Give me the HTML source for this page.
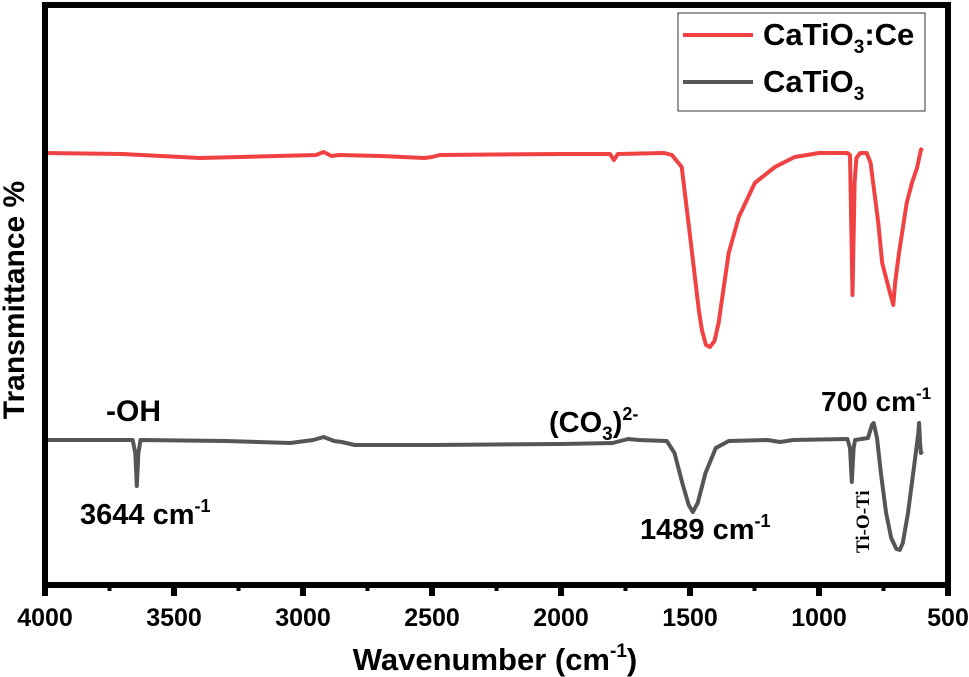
<!DOCTYPE html>
<html><head><meta charset="utf-8"><style>
body{margin:0;background:#fff}
svg{display:block;font-family:"Liberation Sans",Arial,sans-serif;font-weight:bold}
</style></head><body>
<svg id="chart" width="969" height="677" viewBox="0 0 969 677">
<g id="plot"></g>
<g id="axes"></g>
<text x="495" y="670" font-size="31" text-anchor="middle">Wavenumber (cm<tspan font-size="19" dy="-13">-1</tspan><tspan dy="13">)</tspan></text>
<text transform="translate(24,300) rotate(-90)" font-size="30" text-anchor="middle">Transmittance %</text>
<g>
<rect x="678" y="13" width="247" height="98" fill="#fff" stroke="#333" stroke-width="1"/>
<line x1="683" y1="35" x2="753" y2="35" stroke="#f04242" stroke-width="4"/>
<text x="763" y="45" font-size="31">CaTiO<tspan font-size="19" dy="8">3</tspan><tspan dy="-8">:Ce</tspan></text>
<line x1="683" y1="82" x2="753" y2="82" stroke="#555" stroke-width="4"/>
<text x="763" y="92" font-size="31">CaTiO<tspan font-size="19" dy="8">3</tspan></text>
</g>
<text x="106" y="421" font-size="30">-OH</text>
<text x="80" y="524" font-size="29">3644 cm<tspan font-size="18" dy="-12">-1</tspan></text>
<text x="549" y="432" font-size="29">(CO<tspan font-size="19" dy="8">3</tspan><tspan dy="-8">)</tspan><tspan font-size="18" dy="-12">2-</tspan></text>
<text x="640" y="539" font-size="29">1489 cm<tspan font-size="18" dy="-12">-1</tspan></text>
<text x="821" y="411" font-size="28">700 cm<tspan font-size="17" dy="-12">-1</tspan></text>
<text transform="translate(869,553) rotate(-90)" font-family="'Liberation Serif',serif" font-size="19">Ti-O-Ti</text>
</svg>
<script>
const ceWave=[4000,3700,3400,3100,2950,2920,2890,2860,2700,2530,2500,2470,2000,1810,1795,1780,1600,1570,1532,1501,1466,1454,1438,1423,1405,1389,1350,1311,1249,1171,1094,1000,890,880,870,862,855,840,815,800,770,755,735,725,712,705,690,660,640,620,605,600];
const ceTrans=[450,449,445,447,448,451,447,448,447,445,446,448,449,449,443,449,450,448,436,370,293,273,258,256,262,280,350,386,420,436,446,450,450,448,308,420,445,450,450,440,380,340,320,310,298,320,350,400,420,435,453,455];
const tiWave=[4000,3800,3660,3650,3644,3638,3630,3300,3050,2960,2920,2880,2850,2800,2500,2000,1800,1740,1700,1590,1560,1530,1505,1489,1470,1440,1400,1350,1200,1150,1100,890,880,873,866,860,810,795,788,775,760,740,720,700,687,675,655,630,615,612,608,605,600];
const tiTrans=[163,163,163,150,117,150,163,162,160,163,166,162,161,158,158,159,160,164,163,162,150,120,98,91,100,130,155,162,163,161,163,164,155,121,155,163,165,178,180,165,130,90,65,54,53,60,90,140,170,180,160,150,152];
const xTicks=[4000,3500,3000,2500,2000,1500,1000,500];
const xMinor=[3750,3250,2750,2250,1750,1250,750];
const X0=45,X1=948,YB=585,YT=5,YREF=603;
const xs=w=>X0+(4000-w)/3500*(X1-X0);
const ys=v=>YREF-v;
const NS="http://www.w3.org/2000/svg";
const plot=document.getElementById('plot'),axes=document.getElementById('axes');
function line(wave,trans,color,name){
 const p=document.createElementNS(NS,'path');
 
 
 p.setAttribute('d',wave.map((w,i)=>(i?'L':'M')+xs(w).toFixed(1)+','+ys(trans[i]).toFixed(1)).join(''));
 p.setAttribute('fill','none');p.setAttribute('stroke',color);p.setAttribute('stroke-width','4');p.setAttribute('stroke-linejoin','round');
 plot.appendChild(p);
}
line(ceWave,ceTrans,'#f04242','series-catio3-ce');
line(tiWave,tiTrans,'#555555','series-catio3');
const frame=document.createElementNS(NS,'rect');


frame.setAttribute('x',X0);frame.setAttribute('y',YT);frame.setAttribute('width',X1-X0);frame.setAttribute('height',YB-YT);
frame.setAttribute('fill','none');frame.setAttribute('stroke','#000');frame.setAttribute('stroke-width','6');
axes.appendChild(frame);
xTicks.forEach(t=>{
 const l=document.createElementNS(NS,'line');
 
 
 l.setAttribute('x1',xs(t));l.setAttribute('x2',xs(t));l.setAttribute('y1',YB);l.setAttribute('y2',YB+11);
 l.setAttribute('stroke','#000');l.setAttribute('stroke-width','6');axes.appendChild(l);
 const tx=document.createElementNS(NS,'text');
 
 
 tx.setAttribute('x',xs(t));tx.setAttribute('y',626);tx.setAttribute('font-size','25');tx.setAttribute('text-anchor','middle');
 tx.textContent=t;axes.appendChild(tx);
});
xMinor.forEach(t=>{
 const l=document.createElementNS(NS,'line');
 
 
 l.setAttribute('x1',xs(t));l.setAttribute('x2',xs(t));l.setAttribute('y1',YB);l.setAttribute('y2',YB+6);
 l.setAttribute('stroke','#000');l.setAttribute('stroke-width','4');axes.appendChild(l);
});
</script>
</body></html>
